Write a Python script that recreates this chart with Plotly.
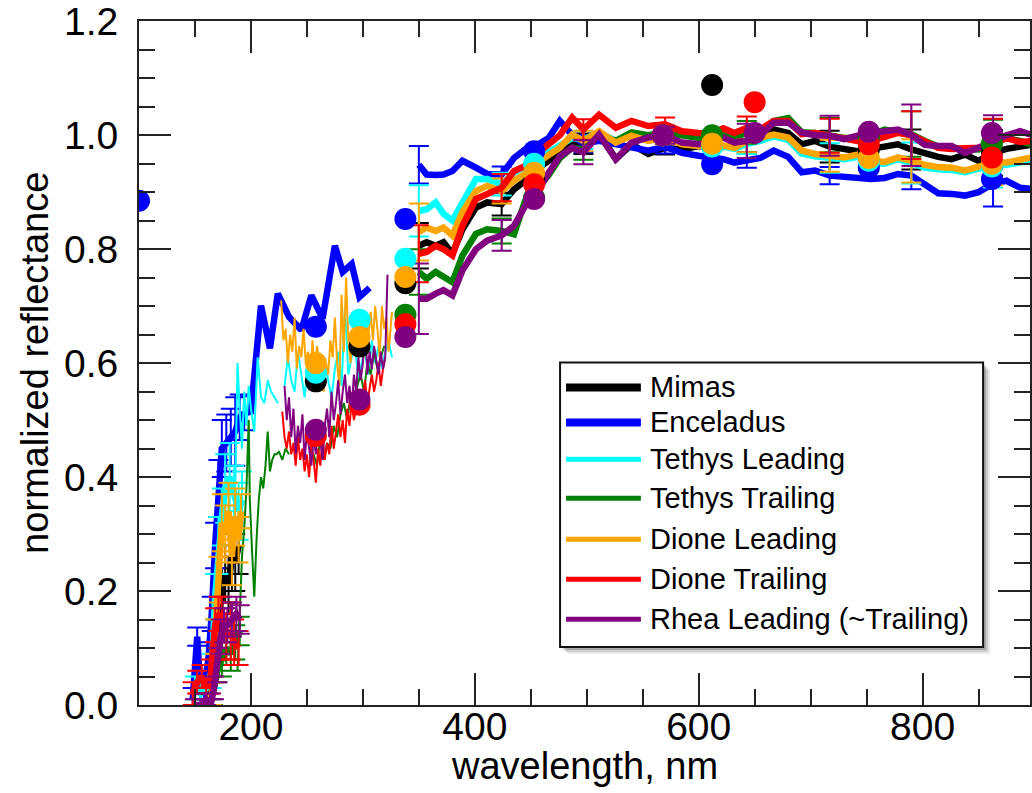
import plotly.graph_objects as go

# ---------------- data ----------------
series = ["Mimas", "Enceladus", "Tethys Leading", "Tethys Trailing",
          "Dione Leading", "Dione Trailing", "Rhea Leading (~Trailing)"]
colors = ["#000000", "#0000FF", "#00FFFF", "#008000", "#FFA500", "#FF0000", "#800080"]

# visible-range thick spectra (nm)
vis_wl = [350, 357, 365, 372, 380, 389, 401, 411, 424, 435, 445, 455, 466, 476, 487, 497,
          511, 526, 540, 555, 570, 585, 600, 612, 622, 632, 643, 655, 667, 680, 692, 704,
          717, 730, 742, 754, 766, 778, 790, 802, 814, 826, 838, 850, 863, 875, 887, 900]
mimas_vis = [0.806, 0.812, 0.806, 0.812, 0.792, 0.835, 0.873, 0.882, 0.879, 0.905, 0.920, 0.940,
             0.955, 0.970, 0.987, 0.985, 1.004, 0.958, 0.984, 0.967, 0.978, 0.975, 0.981, 0.978,
             0.980, 0.981, 0.990, 0.996, 1.010, 1.004, 0.984, 0.990, 0.980, 0.975, 0.972, 0.976,
             0.980, 0.984, 0.975, 0.968, 0.962, 0.958, 0.966, 0.955, 0.969, 0.976, 0.981, 0.984]
enceladus_vis = [0.948, 0.931, 0.930, 0.931, 0.937, 0.955, 0.943, 0.932, 0.931, 0.960, 0.975, 0.982,
                 0.995, 1.025, 1.000, 0.985, 0.990, 0.985, 0.980, 0.973, 0.980, 0.969, 0.964, 0.962,
                 0.958, 0.952, 0.955, 0.960, 0.973, 0.962, 0.935, 0.938, 0.929, 0.926, 0.924, 0.923,
                 0.925, 0.932, 0.929, 0.912, 0.898, 0.897, 0.894, 0.900, 0.915, 0.920, 0.908, 0.905]
tethysL_vis = [0.867, 0.870, 0.882, 0.862, 0.850, 0.882, 0.923, 0.923, 0.914, 0.934, 0.946, 0.958,
               0.970, 0.980, 0.995, 0.992, 1.005, 0.990, 1.000, 0.993, 0.998, 0.986, 0.983, 0.983,
               0.980, 0.976, 0.985, 0.990, 0.998, 0.992, 0.968, 0.963, 0.960, 0.958, 0.962, 0.951,
               0.950, 0.958, 0.951, 0.943, 0.940, 0.939, 0.935, 0.942, 0.948, 0.948, 0.953, 0.957]
tethysT_vis = [0.760, 0.748, 0.760, 0.751, 0.742, 0.789, 0.827, 0.835, 0.832, 0.826, 0.885, 0.905,
               0.930, 0.960, 0.978, 0.975, 1.000, 0.990, 1.005, 1.000, 1.005, 1.000, 0.995, 0.998,
               1.000, 0.995, 1.005, 1.005, 1.025, 1.030, 1.005, 1.004, 1.000, 0.995, 0.995, 1.000,
               1.010, 1.005, 1.002, 0.990, 0.980, 0.976, 0.975, 0.975, 0.985, 0.995, 0.990, 0.982]
dioneL_vis = [0.830, 0.838, 0.832, 0.838, 0.824, 0.865, 0.902, 0.911, 0.902, 0.920, 0.932, 0.950,
              0.965, 0.978, 1.001, 0.990, 1.007, 0.987, 0.999, 0.990, 0.996, 0.984, 0.981, 0.985,
              0.982, 0.978, 0.990, 0.995, 1.001, 0.996, 0.973, 0.967, 0.964, 0.961, 0.966, 0.955,
              0.953, 0.961, 0.955, 0.948, 0.944, 0.943, 0.938, 0.945, 0.952, 0.952, 0.958, 0.962]
dioneT_vis = [0.792, 0.795, 0.806, 0.800, 0.789, 0.841, 0.888, 0.897, 0.908, 0.937, 0.946, 0.967,
              0.985, 1.000, 1.031, 1.010, 1.036, 1.013, 1.025, 1.016, 1.019, 1.007, 1.004, 1.003,
              1.012, 1.004, 1.013, 1.010, 1.025, 1.025, 1.002, 1.004, 0.999, 0.993, 0.990, 0.990,
              0.998, 1.004, 1.000, 0.990, 0.978, 0.976, 0.978, 0.978, 0.985, 0.995, 0.988, 0.990]
rhea_vis = [0.713, 0.713, 0.722, 0.728, 0.719, 0.763, 0.800, 0.815, 0.824, 0.841, 0.876, 0.897,
            0.934, 0.963, 0.978, 0.970, 1.001, 0.958, 0.987, 0.996, 1.000, 0.987, 0.984, 0.990,
            0.996, 0.987, 0.990, 0.999, 1.022, 1.022, 1.005, 1.000, 0.999, 0.993, 1.000, 1.005,
            1.007, 1.010, 1.000, 0.983, 0.981, 0.981, 0.969, 0.978, 0.988, 1.000, 1.007, 0.999]

# error bars on the visible spectra
err_wl = [350, 424, 497, 570, 643, 717, 790, 863]
mimas_err = [0.040, 0.020, 0.018, 0.012, 0.020, 0.028, 0.035, 0.040]
enceladus_err = [0.033, 0.014, 0.015, 0.012, 0.012, 0.015, 0.024, 0.040]
tethysL_err = [0.045, 0.020, 0.016, 0.012, 0.018, 0.026, 0.036, 0.040]
tethysT_err = [0.040, 0.022, 0.018, 0.012, 0.020, 0.030, 0.040, 0.042]
dioneL_err = [0.050, 0.022, 0.018, 0.012, 0.020, 0.028, 0.038, 0.040]
dioneT_err = [0.050, 0.024, 0.018, 0.012, 0.020, 0.030, 0.042, 0.044]
rhea_err = [0.062, 0.027, 0.021, 0.015, 0.030, 0.035, 0.054, 0.047]

# far-UV thick spectra with error bars
mimas_uv_wl = [160, 165, 170, 174, 177, 180, 183, 186, 189]
mimas_uv = [0.00, 0.03, 0.12, 0.20, 0.23, 0.21, 0.26, 0.25, 0.28]
mimas_uv_err = [0.02, 0.02, 0.03, 0.04, 0.05, 0.05, 0.06, 0.05, 0.05]
enceladus_uv_wl = [148, 152, 155, 158, 162, 165, 168, 171, 174, 178, 182, 186, 190, 194]
enceladus_uv = [0.01, 0.12, 0.02, 0.03, 0.08, 0.16, 0.28, 0.38, 0.45, 0.46, 0.47, 0.48, 0.505, 0.512]
enceladus_uv_err = [0.02, 0.016, 0.02, 0.02, 0.03, 0.03, 0.04, 0.05, 0.05, 0.05, 0.05, 0.06, 0.04, 0.03]
tethysL_uv_wl = [150, 155, 160, 165, 168, 171, 174, 177, 181, 185, 189, 192]
tethysL_uv = [0.03, 0.02, 0.03, 0.06, 0.19, 0.28, 0.33, 0.38, 0.40, 0.37, 0.34, 0.36]
tethysL_uv_err = [0.02, 0.02, 0.02, 0.03, 0.04, 0.05, 0.05, 0.06, 0.06, 0.05, 0.05, 0.05]
tethysT_uv_wl = [160, 166, 170, 174, 178, 182, 186, 190]
tethysT_uv = [0.00, 0.02, 0.06, 0.08, 0.10, 0.09, 0.11, 0.13]
tethysT_uv_err = [0.02, 0.02, 0.02, 0.03, 0.03, 0.03, 0.03, 0.025]
dioneL_uv_wl = [162, 165, 168, 171, 174, 177, 180, 183, 186, 189, 191]
dioneL_uv = [0.00, 0.02, 0.12, 0.22, 0.32, 0.30, 0.34, 0.26, 0.33, 0.29, 0.34]
dioneL_uv_err = [0.02, 0.02, 0.03, 0.04, 0.05, 0.05, 0.05, 0.05, 0.05, 0.04, 0.03]
dioneT_uv_wl = [148, 152, 156, 160, 164, 168, 171, 174, 178, 182, 185, 189]
dioneT_uv = [0.02, 0.04, 0.05, 0.03, 0.05, 0.14, 0.16, 0.15, 0.12, 0.13, 0.11, 0.10]
dioneT_uv_err = [0.02, 0.02, 0.02, 0.02, 0.03, 0.03, 0.03, 0.04, 0.04, 0.05, 0.04, 0.03]
rhea_uv_wl = [150, 155, 160, 164, 167, 170, 173, 176, 179, 183, 187, 190]
rhea_uv = [0.00, 0.00, 0.01, 0.00, 0.03, 0.07, 0.12, 0.14, 0.14, 0.15, 0.16, 0.15]
rhea_uv_err = [0.01, 0.01, 0.01, 0.02, 0.02, 0.03, 0.03, 0.03, 0.03, 0.03, 0.03, 0.025]

# Enceladus thick mid-UV spectrum
enceladus_mid_wl = [194, 200, 209, 217, 224, 234, 245, 254, 264, 275, 282, 290, 297, 306]
enceladus_mid = [0.512, 0.515, 0.701, 0.626, 0.722, 0.681, 0.658, 0.719, 0.678, 0.806, 0.760,
                 0.774, 0.716, 0.732]

# thin noisy mid-UV spectra
tethysL_thin1_wl = [186, 188, 190, 192, 194, 196, 198, 200, 203, 206, 209, 212, 215, 218, 221, 224]
tethysL_thin1 = [0.38, 0.60, 0.52, 0.45, 0.55, 0.49, 0.56, 0.52, 0.48, 0.61, 0.54, 0.53, 0.57,
                 0.55, 0.54, 0.53]
tethysL_thin2_wl = list(range(230, 327, 3))
tethysL_thin2 = [0.56, 0.61, 0.57, 0.55, 0.62, 0.58, 0.54, 0.60, 0.57, 0.59, 0.55, 0.58, 0.61,
                 0.57, 0.54, 0.59, 0.62, 0.56, 0.70, 0.58, 0.61, 0.63, 0.57, 0.60, 0.62, 0.58,
                 0.64, 0.60, 0.63, 0.59, 0.62, 0.64, 0.61]
tethysT_thin1_wl = [188, 190, 192, 194, 196, 198, 199, 201, 203, 205, 207, 209, 211, 213, 215,
                    217, 219, 221, 223, 225, 228, 231, 234]
tethysT_thin1 = [0.06, 0.18, 0.26, 0.31, 0.38, 0.50, 0.36, 0.27, 0.19, 0.29, 0.36, 0.40, 0.38,
                 0.42, 0.48, 0.41, 0.43, 0.44, 0.44, 0.445, 0.43, 0.45, 0.44]
tethysT_thin2_wl = list(range(256, 320, 3))
tethysT_thin2 = [0.44, 0.42, 0.47, 0.43, 0.46, 0.45, 0.49, 0.47, 0.51, 0.53, 0.50, 0.54, 0.52,
                 0.56, 0.58, 0.55, 0.60, 0.58, 0.62, 0.59, 0.61, 0.63]
dioneL_thin_wl = [227, 229, 231, 233, 235, 237, 239, 241, 243, 245, 247, 249, 251, 253, 255, 257,
                  259, 261, 263, 265, 267, 269, 271, 273, 275, 277, 279, 281, 283, 285, 287, 289,
                  291, 293, 295, 297, 299, 301, 303, 305, 307, 309, 311, 313, 315, 317, 319, 321,
                  323, 326]
dioneL_thin = [0.71, 0.64, 0.66, 0.60, 0.65, 0.62, 0.68, 0.59, 0.63, 0.61, 0.66, 0.60, 0.62, 0.57,
               0.64, 0.58, 0.63, 0.60, 0.57, 0.55, 0.60, 0.58, 0.64, 0.61, 0.68, 0.60, 0.56, 0.72,
               0.62, 0.75, 0.64, 0.60, 0.66, 0.62, 0.67, 0.63, 0.65, 0.61, 0.67, 0.65, 0.69, 0.64,
               0.70, 0.66, 0.61, 0.70, 0.66, 0.68, 0.62, 0.69]
dioneT_thin_wl = list(range(228, 322, 2))
dioneT_thin = [0.515, 0.47, 0.45, 0.48, 0.44, 0.46, 0.42, 0.47, 0.43, 0.45, 0.41, 0.44, 0.40, 0.46,
               0.43, 0.39, 0.45, 0.42, 0.47, 0.43, 0.46, 0.44, 0.49, 0.45, 0.48, 0.51, 0.47, 0.50,
               0.46, 0.52, 0.49, 0.53, 0.50, 0.52, 0.55, 0.51, 0.54, 0.57, 0.53, 0.56, 0.58, 0.55,
               0.57, 0.60, 0.56, 0.59, 0.61]
rhea_thin_wl = list(range(230, 324, 2))
rhea_thin = [0.56, 0.50, 0.54, 0.47, 0.52, 0.44, 0.49, 0.46, 0.51, 0.43, 0.48, 0.45, 0.42, 0.47,
             0.44, 0.50, 0.46, 0.43, 0.49, 0.52, 0.47, 0.55, 0.50, 0.53, 0.57, 0.51, 0.55, 0.58,
             0.53, 0.56, 0.52, 0.58, 0.55, 0.61, 0.57, 0.60, 0.68, 0.58, 0.62, 0.59, 0.63, 0.60,
             0.58, 0.62, 0.59, 0.61, 0.755]

# filter photometry points
mimas_pt_wl = [258, 297, 338, 453, 568, 612, 752, 862]
mimas_pt = [0.568, 0.629, 0.740, 0.920, 1.000, 1.088, 0.975, 0.970]
enceladus_pt_wl = [100, 258, 338, 453, 568, 612, 752, 862]
enceladus_pt = [0.885, 0.664, 0.853, 0.972, 1.000, 0.949, 0.943, 0.923]
tethysL_pt_wl = [258, 297, 338, 453, 568, 612, 752, 862]
tethysL_pt = [0.583, 0.676, 0.783, 0.950, 1.000, 0.980, 0.955, 0.945]
tethysT_pt_wl = [338, 453, 568, 612, 752, 862]
tethysT_pt = [0.685, 0.890, 1.000, 1.000, 0.995, 0.985]
dioneL_pt_wl = [258, 297, 338, 453, 568, 612, 752, 862]
dioneL_pt = [0.600, 0.646, 0.751, 0.934, 1.000, 0.985, 0.960, 0.950]
dioneT_pt_wl = [258, 297, 338, 453, 568, 650, 752, 862]
dioneT_pt = [0.472, 0.527, 0.668, 0.914, 1.000, 1.058, 0.984, 0.961]
rhea_pt_wl = [258, 297, 338, 453, 568, 650, 752, 862]
rhea_pt = [0.483, 0.536, 0.646, 0.888, 1.000, 1.004, 1.006, 1.004]

x_ticks = [200, 400, 600, 800]
y_ticks = [0.0, 0.2, 0.4, 0.6, 0.8, 1.0, 1.2]
y_ticktext = ["0.0", "0.2", "0.4", "0.6", "0.8", "1.0", "1.2"]

# ---------------- figure ----------------
vis = [mimas_vis, enceladus_vis, tethysL_vis, tethysT_vis, dioneL_vis, dioneT_vis, rhea_vis]
errs = [mimas_err, enceladus_err, tethysL_err, tethysT_err, dioneL_err, dioneT_err, rhea_err]
uvs = [(mimas_uv_wl, mimas_uv, mimas_uv_err), (enceladus_uv_wl, enceladus_uv, enceladus_uv_err),
       (tethysL_uv_wl, tethysL_uv, tethysL_uv_err), (tethysT_uv_wl, tethysT_uv, tethysT_uv_err),
       (dioneL_uv_wl, dioneL_uv, dioneL_uv_err), (dioneT_uv_wl, dioneT_uv, dioneT_uv_err),
       (rhea_uv_wl, rhea_uv, rhea_uv_err)]
thins = [[], [],
         [(tethysL_thin1_wl, tethysL_thin1), (tethysL_thin2_wl, tethysL_thin2)],
         [(tethysT_thin1_wl, tethysT_thin1), (tethysT_thin2_wl, tethysT_thin2)],
         [(dioneL_thin_wl, dioneL_thin)],
         [(dioneT_thin_wl, dioneT_thin)],
         [(rhea_thin_wl, rhea_thin)]]
pts = [(mimas_pt_wl, mimas_pt), (enceladus_pt_wl, enceladus_pt), (tethysL_pt_wl, tethysL_pt),
       (tethysT_pt_wl, tethysT_pt), (dioneL_pt_wl, dioneL_pt), (dioneT_pt_wl, dioneT_pt),
       (rhea_pt_wl, rhea_pt)]

fig = go.Figure()
LW = 6.5
for i, name in enumerate(series):
    c = colors[i]
    uw, uv, ue = uvs[i]
    fig.add_trace(go.Scatter(x=uw, y=uv, mode="lines", line=dict(color=c, width=LW),
                             error_y=dict(type="data", array=ue, color=c, thickness=2, width=10),
                             showlegend=False, hoverinfo="skip"))
    if i == 1:
        fig.add_trace(go.Scatter(x=enceladus_mid_wl, y=enceladus_mid, mode="lines",
                                 line=dict(color=c, width=LW), showlegend=False, hoverinfo="skip"))
    for tw, tv in thins[i]:
        fig.add_trace(go.Scatter(x=tw, y=tv, mode="lines", line=dict(color=c, width=2),
                                 showlegend=False, hoverinfo="skip"))
    fig.add_trace(go.Scatter(x=vis_wl, y=vis[i], mode="lines", line=dict(color=c, width=LW),
                             showlegend=False, hoverinfo="skip"))
    centers = [vis[i][vis_wl.index(w)] for w in err_wl]
    fig.add_trace(go.Scatter(x=err_wl, y=centers, mode="markers",
                             marker=dict(size=1, color="rgba(0,0,0,0)"),
                             error_y=dict(type="data", array=errs[i], color=c, thickness=2, width=10),
                             showlegend=False, hoverinfo="skip"))

for i, name in enumerate(series):
    pw, pv = pts[i]
    fig.add_trace(go.Scatter(x=pw, y=pv, mode="markers", cliponaxis=True,
                             marker=dict(size=22, color=colors[i], line=dict(width=0)),
                             showlegend=False, hoverinfo="skip"))

# ---------------- layout ----------------
W, H = 1032, 793
ML, MR, MT, MB = 139, 0, 20, 88
PW, PH = W - ML - MR, H - MT - MB


def px2paper(x, y):
    return (x - ML) / PW, (H - MB - y) / PH


FONT = "Liberation Sans, Arial, Helvetica, sans-serif"
axis_common = dict(showline=True, linecolor="#222222", linewidth=2, mirror="ticks",
                   ticks="inside", ticklen=32, tickwidth=2, tickcolor="#222222",
                   showgrid=False, zeroline=False,
                   tickfont=dict(family=FONT, size=39, color="black"))

fig.update_layout(
    width=W, height=H,
    margin=dict(l=ML, r=MR, t=MT, b=MB, pad=0),
    plot_bgcolor="white", paper_bgcolor="white",
    showlegend=False,
    xaxis=dict(range=[100, 896], tickvals=x_ticks, ticklabelstandoff=-14,
               minor=dict(dtick=50, tick0=0, ticks="inside", ticklen=16, tickwidth=2,
                          tickcolor="#222222"),
               **axis_common),
    yaxis=dict(range=[0, 1.2004], tickvals=y_ticks, ticktext=y_ticktext, ticklabelstandoff=11,
               ticklabeloverflow="allow",
               minor=dict(dtick=0.05, tick0=0, ticks="inside", ticklen=16, tickwidth=2,
                          tickcolor="#222222"),
               **axis_common),
)

TITLE_FONT = dict(family=FONT, size=38, color="black")
fig.add_annotation(text="wavelength, nm", xref="paper", yref="paper", x=0.5, y=0,
                   xanchor="center", yanchor="top", yshift=-38, showarrow=False,
                   font=TITLE_FONT)
fig.add_annotation(text="normalized reflectance", xref="paper", yref="paper", x=0, y=0.5,
                   xanchor="center", yanchor="middle", xshift=-104, textangle=-90,
                   showarrow=False, font=TITLE_FONT)

# hand-drawn legend box (with soft shadow)
bx0, by0, bx1, by1 = 561, 362, 985, 647
for off, alpha in [(7, 0.08), (5, 0.12), (3, 0.18)]:
    x0, y0 = px2paper(bx0 + off, by1 + off)
    x1, y1 = px2paper(bx1 + off, by0 + off)
    fig.add_shape(type="rect", xref="paper", yref="paper", x0=x0, y0=y0, x1=x1, y1=y1,
                  line=dict(width=0), fillcolor="rgba(0,0,0,%s)" % alpha, layer="above")
x0, y0 = px2paper(bx0, by1)
x1, y1 = px2paper(bx1, by0)
fig.add_shape(type="rect", xref="paper", yref="paper", x0=x0, y0=y0, x1=x1, y1=y1,
              line=dict(width=2, color="#111111"), fillcolor="white", layer="above")
row_y = [387, 422, 459, 498, 539, 579, 619]
leg_w = [8, 8, 5, 5, 5, 5, 5]
for i, name in enumerate(series):
    lx0, ly = px2paper(567, row_y[i])
    lx1, _ = px2paper(642, row_y[i])
    fig.add_shape(type="line", xref="paper", yref="paper", x0=lx0, y0=ly, x1=lx1, y1=ly,
                  line=dict(color=colors[i], width=leg_w[i]), layer="above")
    tx, ty = px2paper(649, row_y[i])
    fig.add_annotation(text=name, xref="paper", yref="paper", x=tx, y=ty, xanchor="left",
                       yanchor="middle", showarrow=False,
                       font=dict(family=FONT, size=29, color="black"))

fig.write_html("out.html")
